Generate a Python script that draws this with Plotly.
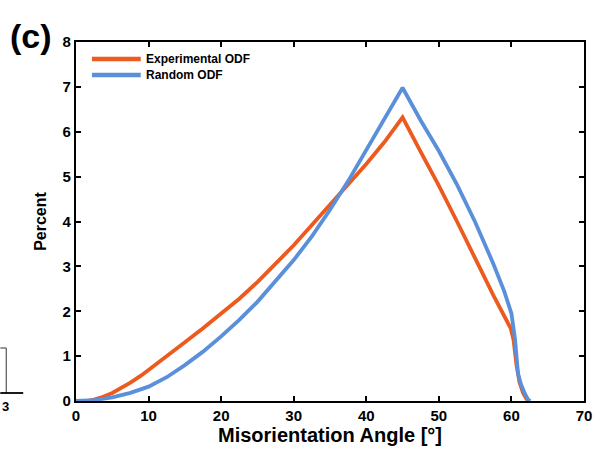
import plotly.graph_objects as go

# Experimental ODF (orange)
exp_angle = [0, 1.5, 2.5, 3.5, 5, 6.5, 7.5, 9, 10, 12.5, 15, 17.5, 20, 22.5, 25, 27.5, 30, 32.5, 35,
             37.5, 40, 42.5, 45, 47.5, 50, 52.5, 55, 57.5, 59.9, 60.3, 60.7, 61.1, 61.6, 62.1, 62.4]
exp_pct = [0, 0, 0.03, 0.08, 0.18, 0.31, 0.41, 0.57, 0.69, 0.99, 1.31, 1.62, 1.94, 2.28, 2.65, 3.05, 3.47,
           3.92, 4.37, 4.82, 5.28, 5.77, 6.32, 5.55, 4.80, 4.00, 3.17, 2.36, 1.62, 1.35, 0.80, 0.42, 0.18,
           0.04, 0]

# Random ODF (blue)
rnd_angle = [0, 2.5, 5, 7.5, 10, 12.5, 15, 17.5, 20, 22.5, 25, 27.5, 30, 32.5, 35, 37.5, 40, 42.5, 45,
             47.5, 50, 52.5, 55, 57.5, 59, 60, 60.5, 60.9, 61.3, 61.8, 62.3, 62.6]
rnd_pct = [0, 0.02, 0.08, 0.18, 0.32, 0.53, 0.80, 1.10, 1.44, 1.81, 2.21, 2.66, 3.14, 3.67, 4.26, 4.90, 5.58,
           6.27, 6.98, 6.25, 5.57, 4.82, 3.99, 3.06, 2.45, 1.95, 1.37, 0.62, 0.38, 0.18, 0.03, 0]

series_names = ["Experimental ODF", "Random ODF"]
series_colors = ["#EC5A1E", "#5A8FDA"]

x_ticks = [0, 10, 20, 30, 40, 50, 60, 70]
y_ticks = [0, 1, 2, 3, 4, 5, 6, 7, 8]

FONT = "Liberation Sans"

fig = go.Figure()
fig.add_trace(go.Scatter(x=exp_angle, y=exp_pct, mode="lines", name=series_names[0],
                         line=dict(color=series_colors[0], width=3.8), showlegend=False))
fig.add_trace(go.Scatter(x=rnd_angle, y=rnd_pct, mode="lines", name=series_names[1],
                         line=dict(color=series_colors[1], width=3.8), showlegend=False))

axis_common = dict(
    showline=True, linecolor="black", linewidth=2.2, mirror="ticks",
    ticks="inside", ticklen=5, tickwidth=2, tickcolor="black",
    showgrid=False, zeroline=False,
    tickfont=dict(family=FONT, size=15, color="black", weight="bold"),
)

fig.update_xaxes(range=[0, 70], tickvals=x_ticks,
                 title=dict(text="Misorientation Angle [°]", standoff=2,
                            font=dict(family=FONT, size=20, color="black", weight="bold")),
                 **axis_common)
fig.update_yaxes(range=[0, 8], tickvals=y_ticks,
                 title=dict(text="Percent", standoff=12,
                            font=dict(family=FONT, size=16, color="black", weight="bold")),
                 **axis_common)

# hand-drawn legend (long line samples as in the original)
W0, W1 = 76, 586   # plot area pixel extents
H0, H1 = 42, 401


def px_x(p):
    return (p - W0) / (W1 - W0)


def px_y(p):
    return (H1 - p) / (H1 - H0)


legend_rows = [59, 75]
shapes = []
annotations = []
for name, color, row in zip(series_names, series_colors, legend_rows):
    shapes.append(dict(type="line", xref="paper", yref="paper",
                       x0=px_x(92), x1=px_x(141), y0=px_y(row), y1=px_y(row),
                       line=dict(color=color, width=4.5)))
    annotations.append(dict(text=name, xref="paper", yref="paper", x=px_x(144), y=px_y(row),
                            xanchor="left", yanchor="middle", showarrow=False,
                            font=dict(family=FONT, size=12, color="black", weight="bold")))

annotations.append(dict(text="(c)", xref="paper", yref="paper", x=px_x(8), y=px_y(36),
                        xanchor="left", yanchor="middle", showarrow=False,
                        font=dict(family=FONT, size=34, color="black", weight="bold")))
annotations.append(dict(text="3", xref="paper", yref="paper", x=px_x(0), y=px_y(397),
                        xanchor="left", yanchor="top", showarrow=False,
                        font=dict(family=FONT, size=13, color="black", weight="bold")))

# fragment of neighbouring panel on the left edge
shapes += [
    dict(type="line", xref="paper", yref="paper", x0=px_x(0), x1=px_x(6), y0=px_y(348), y1=px_y(348),
         line=dict(color="#555555", width=1.2)),
    dict(type="line", xref="paper", yref="paper", x0=px_x(6), x1=px_x(6), y0=px_y(348), y1=px_y(393),
         line=dict(color="#555555", width=1.2)),
    dict(type="line", xref="paper", yref="paper", x0=px_x(0), x1=px_x(23), y0=px_y(393), y1=px_y(393),
         line=dict(color="black", width=1.8)),
]

fig.update_layout(
    width=604, height=457,
    margin=dict(l=W0, r=604 - W1, t=H0, b=457 - H1),
    plot_bgcolor="white", paper_bgcolor="white",
    showlegend=False,
    annotations=annotations,
    shapes=shapes,
)

fig.write_html("out.html")
